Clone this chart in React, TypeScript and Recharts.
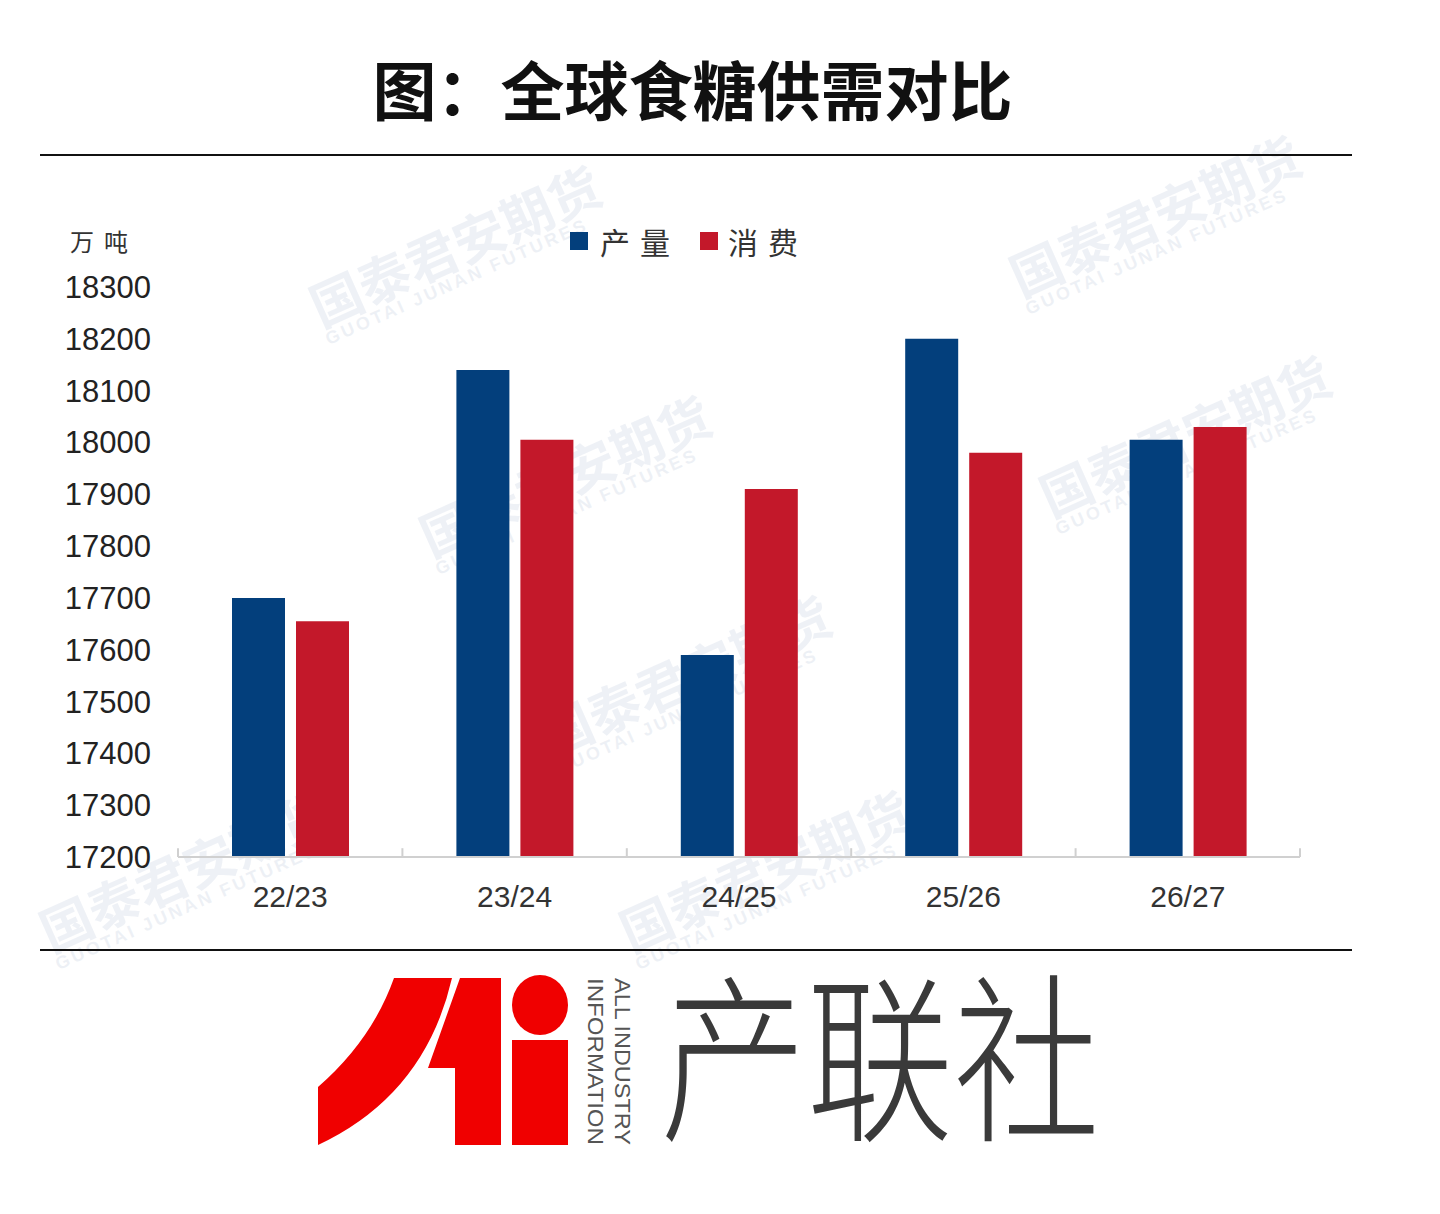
import { BarChart, Bar, XAxis, YAxis, ReferenceLine } from 'recharts';

const seasons = ['22/23', '23/24', '24/25', '25/26', '26/27'];
const production = [17700, 18140, 17590, 18200, 18005];
const consumption = [17655, 18005, 17910, 17980, 18030];
const yTicks = [17200, 17300, 17400, 17500, 17600, 17700, 17800, 17900, 18000, 18100, 18200, 18300];

const data = seasons.map((s, i) => ({ season: s, prod: production[i], cons: consumption[i] }));

const BLUE = '#033f7c';
const RED = '#c3182a';
const cjk = '"Noto Sans CJK SC", sans-serif';
const latin = '"Liberation Sans", Arial, sans-serif';

// faint background watermark
const marks = [
  { x: 330, y: 330, s: 52 },
  { x: 440, y: 560, s: 52 },
  { x: 560, y: 760, s: 52 },
  { x: 1030, y: 300, s: 52 },
  { x: 1060, y: 520, s: 52 },
  { x: 60, y: 955, s: 52 },
  { x: 640, y: 955, s: 52 },
];

export default function App() {
  return (
    <div style={{ position: 'absolute', left: 0, top: 0, width: 1440, height: 1214, background: '#fff', overflow: 'hidden' }}>
      {marks.map((m, i) => (
        <div key={i} style={{
          position: 'absolute', left: m.x, top: m.y - m.s, transform: 'rotate(-24deg)', transformOrigin: 'left bottom',
          fontFamily: cjk, fontWeight: 700, fontSize: m.s, color: 'rgba(205,214,228,0.35)', whiteSpace: 'nowrap', lineHeight: 1,
        }}>
          国泰君安期货
          <div style={{ fontFamily: latin, fontSize: 18, letterSpacing: 3 }}>GUOTAI JUNAN FUTURES</div>
        </div>
      ))}

      <div style={{
        position: 'absolute', left: 0, width: 1385, top: 47, textAlign: 'center',
        fontFamily: cjk, fontWeight: 700, fontSize: 64, color: '#111', lineHeight: '80px',
      }}>图：全球食糖供需对比</div>
      <div style={{ position: 'absolute', left: 40, top: 154, width: 1312, height: 2, background: '#111' }} />

      <div style={{ position: 'absolute', left: 70, top: 223, fontFamily: cjk, fontSize: 24, color: '#333', letterSpacing: 10 }}>万吨</div>

      <div style={{ position: 'absolute', left: 570, top: 221, display: 'flex', alignItems: 'center', fontFamily: cjk, fontSize: 30, color: '#333', lineHeight: '40px' }}>
        <span style={{ width: 18, height: 18, background: BLUE, marginRight: 12 }} />
        <span style={{ letterSpacing: 10 }}>产量</span>
        <span style={{ width: 18, height: 18, background: RED, marginLeft: 20, marginRight: 10 }} />
        <span style={{ letterSpacing: 10 }}>消费</span>
      </div>

      <div style={{ position: 'absolute', left: 0, top: 200 }}>
        <BarChart width={1400} height={740} data={data} margin={{ top: 87, right: 100, bottom: 33, left: 58 }} barSize={53} barGap={11}>
          <XAxis
            dataKey="season"
            axisLine={{ stroke: '#d0d0d0', strokeWidth: 2 }}
            tickLine={false}
            tickSize={0}
            tickMargin={29}
            height={50}
            tick={{ fill: '#333', fontSize: 30, fontFamily: latin }}
          />
          <YAxis
            domain={[17200, 18300]}
            ticks={yTicks}
            interval={0}
            width={120}
            axisLine={false}
            tickLine={false}
            tickSize={0}
            tickMargin={27}
            tick={{ fill: '#222', fontSize: 31, fontFamily: latin }}
          />
          {seasons.map((s) => (
            <ReferenceLine key={s} segment={[{ x: s, y: 17200 }, { x: s, y: 17217 }]} position="start" stroke="#d0d0d0" strokeWidth={2} />
          ))}
          <ReferenceLine segment={[{ x: seasons[seasons.length - 1], y: 17200 }, { x: seasons[seasons.length - 1], y: 17217 }]} position="end" stroke="#d0d0d0" strokeWidth={2} />
          <Bar dataKey="prod" name="产量" fill={BLUE} isAnimationActive={false} />
          <Bar dataKey="cons" name="消费" fill={RED} isAnimationActive={false} />
        </BarChart>
      </div>

      <div style={{ position: 'absolute', left: 40, top: 949, width: 1312, height: 2, background: '#111' }} />

      <svg style={{ position: 'absolute', left: 0, top: 900 }} width={1440} height={314} viewBox="0 900 1440 314">
        <path d="M394,978 L452,978 Q425,1095 318,1145 L318,1087 Q372,1040 394,978 Z" fill="#f00000" />
        <path d="M460,978 L501,978 L501,1145 L455,1145 L455,1068 L428,1068 Z" fill="#f00000" />
        <rect x={512} y={1040} width={56} height={105} fill="#f00000" />
        <ellipse cx={540} cy={1005} rx={28} ry={30} fill="#f00000" />
        <text transform="translate(615,978) rotate(90)" fontFamily={latin} fontSize={22} fill="#555" textLength={167} lengthAdjust="spacingAndGlyphs">ALL INDUSTRY</text>
        <text transform="translate(588,978) rotate(90)" fontFamily={latin} fontSize={22} fill="#555" textLength={167} lengthAdjust="spacingAndGlyphs">INFORMATION</text>
        <text transform="translate(660,1127) scale(1,1.2)" fontFamily={cjk} fontWeight={300} fontSize={150} fill="#3a3a3a" textLength={440} lengthAdjust="spacingAndGlyphs">产联社</text>
      </svg>
    </div>
  );
}
